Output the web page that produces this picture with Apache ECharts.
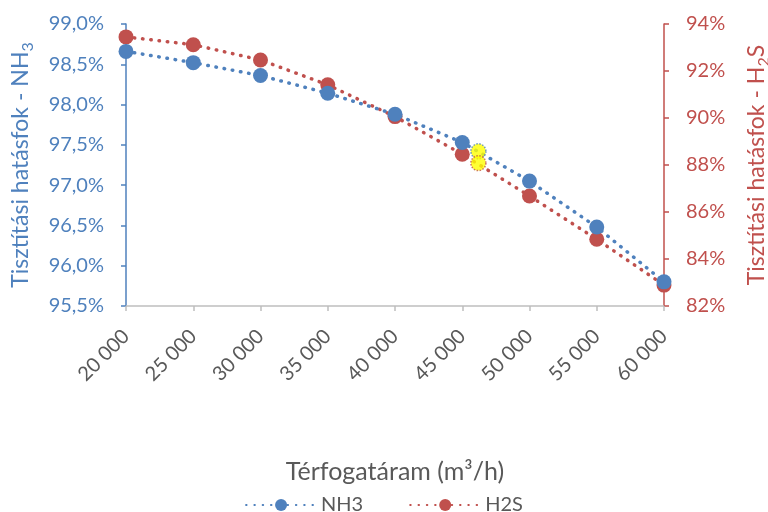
<!DOCTYPE html>
<html>
<head>
<meta charset="utf-8">
<script src="https://cdn.jsdelivr.net/npm/echarts@6/dist/echarts.min.js"></script>
<style>
  html, body { margin: 0; padding: 0; background: #fff; }
  #chart { width: 768px; height: 512px; }
</style>
</head>
<body>
<div id="chart"></div>
<script>
// flow rate (m3/h)
var flowRates = [20000, 25000, 30000, 35000, 40000, 45000, 50000, 55000, 60000];
// removal efficiency, %
var nh3Values = [98.66, 98.52, 98.36, 98.14, 97.88, 97.53, 97.05, 96.48, 95.80];
var h2sValues = [93.45, 93.12, 92.47, 91.41, 90.06, 88.46, 86.68, 84.84, 82.89];
// the highlighted (yellow) point
var highlightX = [46200];
var highlightNh3 = [97.42];
var highlightH2s = [88.08];

var blue = '#4F81BD';
var red = '#C0504D';
var grey = '#595959';
var fontFam = 'Lato, "Open Sans", sans-serif';

function pairs(xs, ys) {
  var out = [];
  for (var i = 0; i < xs.length; i++) out.push([xs[i], ys[i]]);
  return out;
}

function fmtThousands(v) {
  return String(v).replace(/\B(?=(\d{3})+(?!\d))/g, ' ');
}

var dotLine = function (c) {
  return { color: c, width: 3.5, type: [0.5, 7.8], cap: 'round' };
};

// axis title with a real subscript
function subTitle(c) {
  return {
    fontSize: 23,
    color: c,
    rich: {
      t: { fontSize: 23, color: c, lineHeight: 23 },
      sub: { fontSize: 16, color: c, lineHeight: 31, verticalAlign: 'bottom' }
    }
  };
}

var chart = echarts.init(document.getElementById('chart'));
chart.setOption({
  animation: false,
  textStyle: { fontFamily: fontFam },
  grid: { left: 126, right: 104, top: 24, bottom: 206, containLabel: false, outerBoundsMode: 'none' },
  legend: {
    top: 490,
    left: 'center',
    itemWidth: 70,
    itemHeight: 15,
    itemGap: 46,
    textStyle: { fontSize: 20, color: grey, fontFamily: fontFam },
    data: ['NH3', 'H2S']
  },
  xAxis: {
    type: 'value',
    min: 20000,
    max: 60000,
    interval: 5000,
    name: 'Térfogatáram (m³/h)',
    nameLocation: 'middle',
    nameGap: 153,
    nameTextStyle: { fontSize: 25, color: grey },
    axisLine: { onZero: false, lineStyle: { color: '#BFBFBF', width: 1.5 } },
    axisTick: { show: true, length: 5, lineStyle: { color: '#BFBFBF', width: 1.5 } },
    splitLine: { show: false },
    axisLabel: {
      rotate: 45,
      margin: 27,
      fontSize: 20,
      color: grey,
      formatter: fmtThousands
    }
  },
  yAxis: [
    {
      type: 'value',
      position: 'left',
      min: 95.5,
      max: 99.0,
      interval: 0.5,
      name: '{t|Tisztítási hatásfok - NH}{sub|3}',
      nameLocation: 'middle',
      nameRotate: 90,
      nameGap: 90,
      nameTextStyle: subTitle(blue),
      axisLine: { show: true, lineStyle: { color: blue, width: 1.5 } },
      axisTick: { show: true, length: 5, lineStyle: { color: blue, width: 1.5 } },
      splitLine: { show: false },
      axisLabel: {
        margin: 22,
        fontSize: 20,
        color: blue,
        formatter: function (v) { return v.toFixed(1).replace('.', ',') + '%'; }
      }
    },
    {
      type: 'value',
      position: 'right',
      min: 82,
      max: 94,
      interval: 2,
      name: '{t|Tisztítási hatásfok - H}{sub|2}{t|S}',
      nameLocation: 'middle',
      nameRotate: 90,
      nameGap: 77,
      nameTextStyle: subTitle(red),
      axisLine: { show: true, lineStyle: { color: red, width: 1.5 } },
      axisTick: { show: true, length: 5, lineStyle: { color: red, width: 1.5 } },
      splitLine: { show: false },
      axisLabel: {
        margin: 22,
        fontSize: 20,
        color: red,
        formatter: function (v) { return v + '%'; }
      }
    }
  ],
  series: [
    {
      name: 'NH3',
      type: 'line',
      yAxisIndex: 0,
      data: pairs(flowRates, nh3Values),
      symbol: 'circle',
      symbolSize: 15,
      itemStyle: { color: blue },
      lineStyle: dotLine(blue),
      z: 3
    },
    {
      name: 'H2S',
      type: 'line',
      yAxisIndex: 1,
      data: pairs(flowRates, h2sValues),
      symbol: 'circle',
      symbolSize: 15,
      itemStyle: { color: red },
      lineStyle: dotLine(red),
      z: 2
    },
    {
      name: 'hl-nh3',
      type: 'scatter',
      yAxisIndex: 0,
      data: pairs(highlightX, highlightNh3),
      symbol: 'circle',
      symbolSize: 15,
      itemStyle: { color: '#FFFF00', borderColor: blue, borderWidth: 1.5, borderType: [1.5, 1.5] },
      z: 4
    },
    {
      name: 'hl-h2s',
      type: 'scatter',
      yAxisIndex: 1,
      data: pairs(highlightX, highlightH2s),
      symbol: 'circle',
      symbolSize: 15,
      itemStyle: { color: '#FFFF00', borderColor: red, borderWidth: 1.5, borderType: [1.5, 1.5] },
      z: 4
    }
  ]
});
</script>
</body>
</html>
